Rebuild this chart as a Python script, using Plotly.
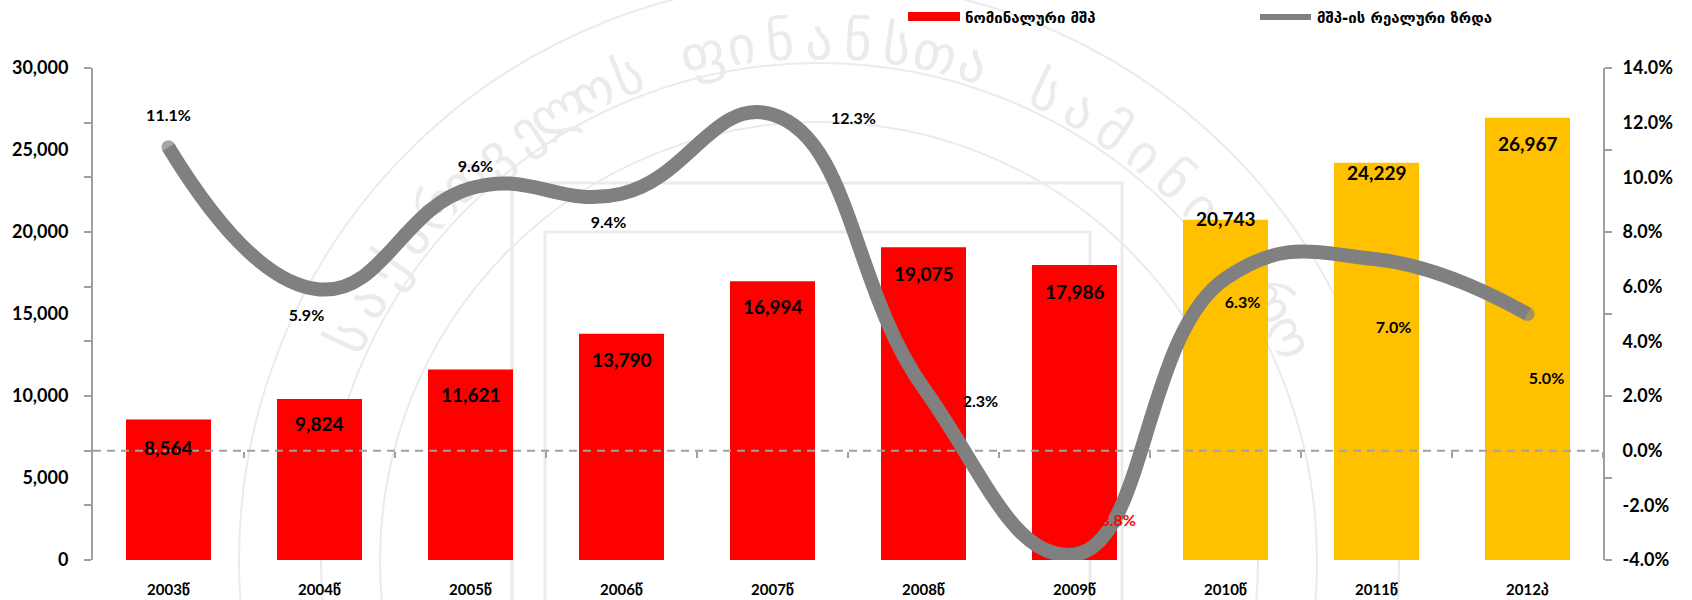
import math
import plotly.graph_objects as go

# ===============================
# data
# ===============================
years = ["2003წ", "2004წ", "2005წ", "2006წ", "2007წ", "2008წ", "2009წ", "2010წ", "2011წ", "2012პ"]
nominal_gdp = [8564, 9824, 11621, 13790, 16994, 19075, 17986, 20743, 24229, 26967]
real_growth = [11.1, 5.9, 9.6, 9.4, 12.3, 2.3, -3.8, 6.3, 7.0, 5.0]
legend_bar = "ნომინალური მშპ"
legend_line = "მშპ-ის რეალური ზრდა"
seal_text = "საქართველოს ფინანსთა სამინისტრო"

left_labels = [0, 5000, 10000, 15000, 20000, 25000, 30000]
right_labels = [-4, -2, 0, 2, 4, 6, 8, 10, 12, 14]

# bars: red for actual years, yellow from 2010
bar_colors = ["#FF0000"] * 7 + ["#FFC000"] * 3

# where each label sits relative to its mark
bar_label_drop = [-28, -25, -25, -26, -25, -26, -26, 1, -10, -26]
growth_dx = [0, -0.086, 0.033, -0.086, 0.536, 0.377, 0.27, 0.113, 0.113, 0.126]
growth_dy = [1.09, -1.0, 0.74, -1.11, -0.2, -0.55, 1.18, -0.93, -2.56, -2.42]
growth_colors = ["black"] * 6 + ["#FF0000"] + ["black"] * 3

AXIS_GREY = "#A0A0A0"
LINE_GREY = "#808080"
SEAL_GREY = "#EBEBEB"
FONT = "Lato"
GEO_FONT = "DejaVu Sans"

# plot box in page pixels
PLOT_L, PLOT_R, PLOT_T, PLOT_B = 93, 1603, 68, 560


def px_x(px):
    return (px - PLOT_L) / (PLOT_R - PLOT_L)


def px_y(py):
    return (PLOT_B - py) / (PLOT_B - PLOT_T)


positions = list(range(len(years)))

fig = go.Figure()

fig.add_trace(go.Bar(
    x=positions, y=nominal_gdp, marker=dict(color=bar_colors, line=dict(width=0)),
    width=0.563, yaxis="y", showlegend=False, hoverinfo="skip",
))

# zero line of the growth axis, over the bars
fig.add_trace(go.Scatter(
    x=[-0.5, 9.5], y=[0, 0], yaxis="y2", mode="lines", showlegend=False, hoverinfo="skip",
    line=dict(color=AXIS_GREY, width=2, dash="8px 6px"),
))

fig.add_trace(go.Scatter(
    x=positions, y=real_growth, yaxis="y2", mode="lines+markers", showlegend=False,
    line=dict(color=LINE_GREY, width=14, shape="spline", smoothing=1.3),
    marker=dict(color=LINE_GREY, size=[14, 0, 0, 0, 0, 0, 0, 0, 0, 14], line=dict(width=0)),
))

# growth labels on top of the line (the -3.8% sits across it)
fig.add_trace(go.Scatter(
    x=[p + d for p, d in zip(positions, growth_dx)],
    y=[v + d for v, d in zip(real_growth, growth_dy)],
    yaxis="y2", mode="text", showlegend=False, hoverinfo="skip",
    text=[f"{v:.1f}%" for v in real_growth],
    textfont=dict(family=FONT, size=16, color=growth_colors, weight="bold"),
))

# empty traces, only so the helper axes get drawn
for axes in (dict(yaxis="y3"), dict(yaxis="y4"), dict(xaxis="x2")):
    fig.add_trace(go.Scatter(x=[None], y=[None], showlegend=False, hoverinfo="skip", **axes))

annotations = []
for p, v, drop in zip(positions, nominal_gdp, bar_label_drop):
    annotations.append(dict(
        x=p, y=v, xref="x", yref="y", yshift=drop, showarrow=False, text=f"<b>{v:,}</b>",
        font=dict(family=FONT, size=19, color="black"),
    ))

# legend drawn by hand, swatches are much wider than plotly's
for left, text in ((963, legend_bar), (1315, legend_line)):
    annotations.append(dict(
        x=px_x(left), y=px_y(18), xref="paper", yref="paper", xanchor="left", yanchor="middle",
        showarrow=False, text=f"<b>{text}</b>", font=dict(family=GEO_FONT, size=15, color="black"),
    ))

shapes = [
    dict(type="rect", xref="paper", yref="paper", layer="below", x0=px_x(908), x1=px_x(960),
         y0=px_y(21), y1=px_y(12), fillcolor="#FF0000", line=dict(width=0)),
    dict(type="line", xref="paper", yref="paper", layer="below", x0=px_x(1260), x1=px_x(1311),
         y0=px_y(17), y1=px_y(17), line=dict(color=LINE_GREY, width=6)),
]

# faint seal behind the chart, letters are shape labels so they stay under the traces
SEAL_X, SEAL_Y, SEAL_TEXT_R = 819, 561, 525
step = 4.3
for i, ch in enumerate(seal_text):
    angle = (i - (len(seal_text) - 1) / 2) * step
    rad = math.radians(angle)
    cx = SEAL_X + SEAL_TEXT_R * math.sin(rad)
    cy = SEAL_Y - SEAL_TEXT_R * math.cos(rad)
    shapes.append(dict(
        type="rect", xref="paper", yref="paper", layer="below",
        x0=px_x(cx - 20), x1=px_x(cx + 20), y0=px_y(cy + 20), y1=px_y(cy - 20),
        line=dict(width=0), fillcolor="rgba(0,0,0,0)",
        label=dict(text=ch, textangle=angle, textposition="middle center",
                   font=dict(family=GEO_FONT, size=54, color=SEAL_GREY)),
    ))
for r in (498, 439, 580):
    shapes.append(dict(type="circle", xref="paper", yref="paper", layer="below",
                       x0=px_x(SEAL_X - r), x1=px_x(SEAL_X + r), y0=px_y(SEAL_Y + r), y1=px_y(SEAL_Y - r),
                       line=dict(color=SEAL_GREY, width=2)))
for x0, x1, top in ((512, 1122, 183), (545, 1090, 232)):
    shapes.append(dict(type="rect", xref="paper", yref="paper", layer="below",
                       x0=px_x(x0), x1=px_x(x1), y0=px_y(640), y1=px_y(top),
                       line=dict(color=SEAL_GREY, width=3)))

label_font = dict(family=FONT, size=18, color="black", weight="bold")

fig.update_layout(
    width=1692, height=600,
    margin=dict(l=PLOT_L, r=1692 - PLOT_R, t=PLOT_T, b=600 - PLOT_B, pad=0, autoexpand=False),
    paper_bgcolor="white", plot_bgcolor="rgba(0,0,0,0)",
    showlegend=False,
    xaxis=dict(
        range=[-0.5, 9.5], tickmode="array", tickvals=positions, ticktext=years,
        ticks="outside", ticklen=16, tickcolor="rgba(0,0,0,0)", showgrid=False, zeroline=False,
        tickfont=dict(family=FONT, size=15, color="black", weight="bold"),
    ),
    # category ticks hanging off the zero line
    xaxis2=dict(
        overlaying="x", anchor="free", position=4 / 18, side="bottom", range=[-0.5, 9.5],
        tickmode="array", tickvals=[p + 0.5 for p in positions], ticks="outside", ticklen=6,
        tickwidth=2, tickcolor=AXIS_GREY, showticklabels=False, showgrid=False, zeroline=False,
    ),
    # left axis: tick marks every 9th of the range, labels on their own axis
    yaxis=dict(
        range=[0, 30000], tickmode="array", tickvals=[30000 * i / 9 for i in range(10)],
        ticks="outside", ticklen=7, tickwidth=2, tickcolor=AXIS_GREY, showticklabels=False,
        showline=True, linecolor=AXIS_GREY, linewidth=2, showgrid=False, zeroline=False,
    ),
    yaxis3=dict(
        overlaying="y", anchor="x", side="left", range=[0, 30000], tickmode="array",
        tickvals=left_labels, ticktext=[f"{v:,}" for v in left_labels], ticks="outside", ticklen=20,
        tickcolor="rgba(0,0,0,0)", tickfont=label_font, showgrid=False, zeroline=False,
    ),
    # right axis: same trick, marks every 3 points, labels every 2
    yaxis2=dict(
        overlaying="y", anchor="x", side="right", range=[-4, 14], tickmode="array",
        tickvals=[-4 + 3 * i for i in range(7)], ticks="outside", ticklen=7, tickwidth=2,
        tickcolor=AXIS_GREY, showticklabels=False, showline=True, linecolor=AXIS_GREY, linewidth=2,
        showgrid=False, zeroline=False,
    ),
    yaxis4=dict(
        overlaying="y", anchor="x", side="right", range=[-4, 14], tickmode="array",
        tickvals=right_labels, ticktext=[f"{v:.1f}%" for v in right_labels], ticks="outside", ticklen=15,
        tickcolor="rgba(0,0,0,0)", tickfont=label_font, showgrid=False, zeroline=False,
    ),
    annotations=annotations,
    shapes=shapes,
)

# plain page margin would push everything 8px off
fig.write_html("out.html", config={"displayModeBar": False}, post_script="document.body.style.margin='0';")
